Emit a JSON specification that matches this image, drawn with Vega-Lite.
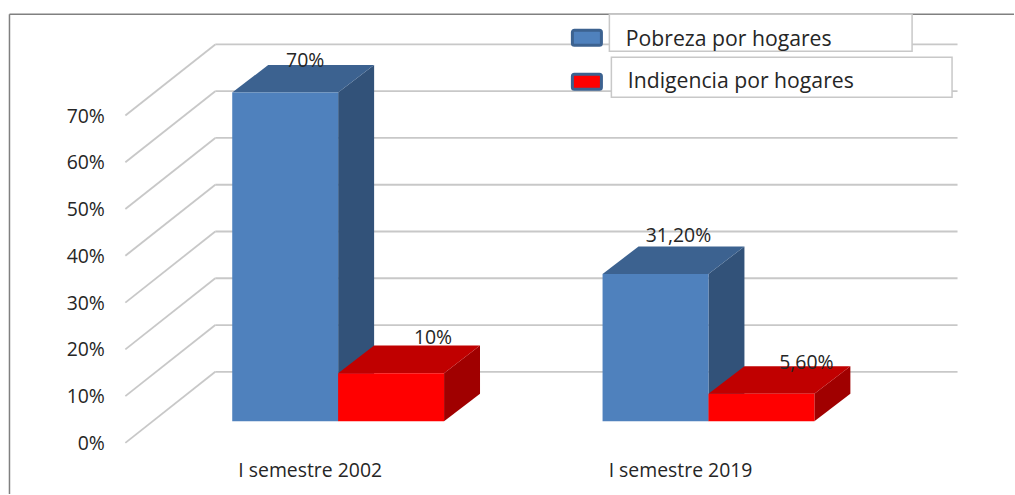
{
"$schema":"https://vega.github.io/schema/vega-lite/v6.json",
"width":1015,"height":495,
"autosize":{"type":"fit","contains":"padding"},
"padding":0,
"background":"white",
"view":{"stroke":null},
"config":{"text":{"font":"Open Sans","fontSize":19.4,"color":"#262626"}},
"datasets":{
"barras":[
{"semestre":"I semestre 2002","serie":"Pobreza por hogares","valor":70,"etiqueta":"70%"},
{"semestre":"I semestre 2002","serie":"Indigencia por hogares","valor":10,"etiqueta":"10%"},
{"semestre":"I semestre 2019","serie":"Pobreza por hogares","valor":31.2,"etiqueta":"31,20%"},
{"semestre":"I semestre 2019","serie":"Indigencia por hogares","valor":5.6,"etiqueta":"5,60%"}
],
"marcas":[{"pct":0},{"pct":10},{"pct":20},{"pct":30},{"pct":40},{"pct":50},{"pct":60},{"pct":70}],
"uno":[{"n":1}]
},
"layer":[
{"data":{"name":"marcas"},"transform":[{"calculate":"datum.pct+15.2","as":"fondo"},{"calculate":"datum.pct+'%'","as":"rotulo"}],
"layer":[
{"mark":{"type":"rule","color":"#c8c8c8","strokeWidth":1.8},
"encoding":{
"x":{"datum":-0.5746,"type":"quantitative","scale":{"domain":[-0.9131,1.825],"nice":false,"zero":false},"axis":null},
"x2":{"datum":-0.3318},
"y":{"field":"pct","type":"quantitative","scale":{"domain":[-10.93,94.70],"nice":false,"zero":false},"axis":null},
"y2":{"field":"fondo"}}},
{"mark":{"type":"rule","color":"#c8c8c8","strokeWidth":1.8},
"encoding":{
"x":{"datum":-0.3318,"type":"quantitative","axis":null},
"x2":{"datum":1.6725},
"y":{"field":"fondo","type":"quantitative","axis":null}}},
{"mark":{"type":"text","align":"right","baseline":"middle","dy":1},
"encoding":{
"x":{"datum":-0.6299,"type":"quantitative","axis":null},
"y":{"field":"pct","type":"quantitative","axis":null},
"text":{"field":"rotulo"}}}
]},
{"data":{"name":"barras"},
"transform":[
{"calculate":"indexof(['I semestre 2002','I semestre 2019'],datum.semestre)","as":"g"},
{"calculate":"datum.serie==='Pobreza por hogares'?0:1","as":"s"},
{"calculate":"datum.g+(datum.s-1)*0.286","as":"x0"},
{"calculate":"datum.x0+0.286","as":"x1"},
{"calculate":"datum.valor+4.9","as":"tope"},
{"calculate":"datum.semestre+datum.serie","as":"barra"}
],
"layer":[
{"transform":[
{"calculate":"[0,1]","as":"t"},{"flatten":["t"]},
{"calculate":"datum.x1+datum.t*0.0971","as":"px"},
{"calculate":"datum.tope+datum.t*5.9","as":"py"},
{"calculate":"4.63+datum.t*5.9","as":"py2"},
{"calculate":"datum.serie+'|lateral'","as":"cara"}],
"mark":{"type":"area","orient":"vertical","line":false},
"encoding":{
"x":{"field":"px","type":"quantitative","axis":null},
"y":{"field":"py","type":"quantitative","axis":null},
"y2":{"field":"py2"},
"detail":{"field":"barra"},
"color":{"field":"cara","type":"nominal","legend":null,
"scale":{"domain":["Pobreza por hogares|frente","Pobreza por hogares|tapa","Pobreza por hogares|lateral","Indigencia por hogares|frente","Indigencia por hogares|tapa","Indigencia por hogares|lateral"],
"range":["#4f81bd","#3c6290","#325279","#ff0000","#c00000","#a00000"]}}}},
{"transform":[
{"calculate":"[0,1,2,3]","as":"t"},{"flatten":["t"]},
{"calculate":"datum.t==0?datum.x0:datum.t==1?datum.x0+0.0971:datum.t==2?datum.x1:datum.x1+0.0971","as":"px"},
{"calculate":"datum.t==0?datum.tope:datum.tope+5.9","as":"py"},
{"calculate":"datum.t==3?datum.tope+5.9:datum.tope","as":"py2"},
{"calculate":"datum.serie+'|tapa'","as":"cara"}],
"mark":{"type":"area","orient":"vertical","line":false},
"encoding":{
"x":{"field":"px","type":"quantitative","axis":null},
"y":{"field":"py","type":"quantitative","axis":null},
"y2":{"field":"py2"},
"detail":{"field":"barra"},
"color":{"field":"cara","type":"nominal","legend":null}}},
{"transform":[{"calculate":"datum.serie+'|frente'","as":"cara"},{"calculate":"4.63","as":"base"}],
"mark":{"type":"rect"},
"encoding":{
"x":{"field":"x0","type":"quantitative","axis":null},
"x2":{"field":"x1"},
"y":{"field":"tope","type":"quantitative","axis":null},
"y2":{"field":"base"},
"color":{"field":"cara","type":"nominal","legend":null}}},
{"transform":[
{"calculate":"datum.x0+((datum.s==0?73:95)+datum.g*3)/370.7","as":"lx"},
{"calculate":"datum.tope+[32,35.5,38,31][indexof([70,10,31.2,5.6],datum.valor)]/4.686","as":"ly"}],
"mark":{"type":"text","align":"center","baseline":"middle"},
"encoding":{
"x":{"field":"lx","type":"quantitative","axis":null},
"y":{"field":"ly","type":"quantitative","axis":null},
"text":{"field":"etiqueta"}}},
{"transform":[{"filter":"datum.s==0"},{"calculate":"datum.g-0.0755","as":"lx"}],
"mark":{"type":"text","align":"center","baseline":"middle"},
"encoding":{
"x":{"field":"lx","type":"quantitative","axis":null},
"y":{"datum":-5.98,"type":"quantitative","axis":null},
"text":{"field":"semestre"}}}
]},
{"data":{"name":"uno"},
"layer":[
{"mark":{"type":"rule","color":"#808080","strokeWidth":1.5},
"encoding":{"x":{"datum":-0.8875,"type":"quantitative","axis":null},"x2":{"datum":1.825},"y":{"datum":91.64,"type":"quantitative","axis":null}}},
{"mark":{"type":"rule","color":"#808080","strokeWidth":1.5},
"encoding":{"x":{"datum":-0.8875,"type":"quantitative","axis":null},"y":{"datum":91.64,"type":"quantitative","axis":null},"y2":{"datum":-10.93}}},
{"mark":{"type":"rect","fill":"white","stroke":"#c8c8c8","strokeWidth":1.5},
"encoding":{"x":{"datum":0.7324,"type":"quantitative","axis":null},"x2":{"datum":1.5498},"y":{"datum":91.64,"type":"quantitative","axis":null},"y2":{"datum":83.74}}},
{"mark":{"type":"rect","fill":"white","stroke":"#c8c8c8","strokeWidth":1.5},
"encoding":{"x":{"datum":0.7378,"type":"quantitative","axis":null},"x2":{"datum":1.6577},"y":{"datum":82.46,"type":"quantitative","axis":null},"y2":{"datum":73.92}}},
{"mark":{"type":"rect","fill":"#4f81bd","stroke":"#3c6290","strokeWidth":3,"cornerRadius":2},
"encoding":{"x":{"datum":0.6325,"type":"quantitative","axis":null},"x2":{"datum":0.7109},"y":{"datum":88.22,"type":"quantitative","axis":null},"y2":{"datum":85.01}}},
{"mark":{"type":"rect","fill":"#ff0000","stroke":"#3c6290","strokeWidth":3,"cornerRadius":2},
"encoding":{"x":{"datum":0.6325,"type":"quantitative","axis":null},"x2":{"datum":0.7109},"y":{"datum":78.83,"type":"quantitative","axis":null},"y2":{"datum":75.62}}},
{"mark":{"type":"text","align":"left","baseline":"middle","fontSize":21.2,"text":"Pobreza por hogares"},
"encoding":{"x":{"datum":0.7769,"type":"quantitative","axis":null},"y":{"datum":86.2,"type":"quantitative","axis":null}}},
{"mark":{"type":"text","align":"left","baseline":"middle","fontSize":21.2,"text":"Indigencia por hogares"},
"encoding":{"x":{"datum":0.7823,"type":"quantitative","axis":null},"y":{"datum":77.23,"type":"quantitative","axis":null}}}
]}
]
}
